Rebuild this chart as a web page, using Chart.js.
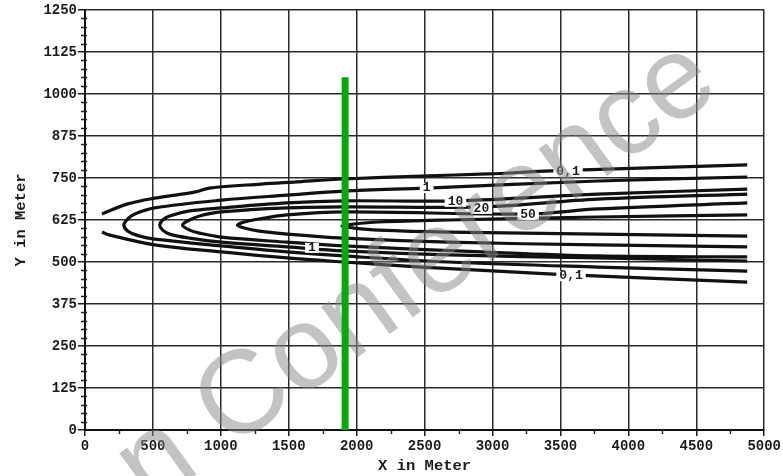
<!DOCTYPE html>
<html>
<head>
<meta charset="utf-8">
<script src="https://cdn.jsdelivr.net/npm/chart.js@4.4.1/dist/chart.umd.min.js"></script>
<style>
  html, body { margin: 0; padding: 0; background: #fff; }
  canvas { display: block; }
</style>
</head>
<body>
<canvas id="plume" width="783" height="476"></canvas>
<script>
// ---- Axis ticks ----
const xTicks = [0, 500, 1000, 1500, 2000, 2500, 3000, 3500, 4000, 4500, 5000];
const yTicks = [0, 125, 250, 375, 500, 625, 750, 875, 1000, 1125, 1250];

// ---- Concentration contours, [x, y] in metres ----
// 0,1 contour: open towards the source, two separate branches
const contour01Upper = [[125,643],[315,673],[513,690],[806,708],[916,720],[1298,732],[1540,738],[1906,747],[2478,756],[2969,762],[3431,771],[4142,780],[4875,789]];
const contour01Lower = [[125,589],[183,580],[513,551],[1004,530],[1488,512],[1906,500],[2478,485],[3446,464],[4142,452],[4875,440]];
// closed contours, traced upper branch (right to left), nose, lower branch (left to right)
const contour1 = [[4875,753],[3776,741],[2515,720],[1906,711],[1488,699],[1004,684],[513,661],[367,643],[315,628],[286,610],[315,592],[403,577],[513,568],[1004,548],[1488,530],[1906,518],[2676,500],[3776,485],[4875,473]];
const contour10 = [[4875,717],[3776,702],[2727,682],[1906,682],[1488,676],[1004,661],[770,652],[623,637],[572,625],[550,610],[572,595],[623,583],[770,571],[1004,559],[1488,545],[1906,533],[2676,521],[3776,512],[4875,503]];
const contour20 = [[4875,702],[3776,687],[2918,664],[1906,664],[1488,661],[1004,649],[843,637],[770,625],[718,610],[770,595],[843,586],[1004,574],[1488,559],[1906,548],[2918,530],[3776,518],[4875,515]];
const contour50 = [[4875,676],[3776,658],[3262,643],[1906,649],[1488,640],[1283,628],[1173,619],[1122,610],[1173,601],[1283,592],[1488,583],[1906,571],[2676,559],[3776,551],[4875,545]];
const contourCore = [[4875,640],[3776,634],[2676,625],[2162,619],[1980,613],[1890,607],[1980,601],[2162,595],[2676,589],[3776,583],[4875,577]];

// ---- Contour level labels ----
const labelTexts = ['0,1', '0,1', '1', '10', '20', '50', '1'];
const labelX     = [3556, 3578, 2515, 2727, 2918, 3262, 1671];
const labelY     = [768, 458, 720, 679, 658, 640, 542];

// ---- Cross-section line ----
const sectionX = [1915, 1915];
const sectionY = [0, 1050];

const monoBold = (size) => ({ family: "'Liberation Mono', 'DejaVu Sans Mono', monospace", weight: 'bold', size });
const ink = '#1c1c1c';

function toPoints(list) { return list.map(([x, y]) => ({ x, y })); }

const contourStyle = {
  showLine: true, pointRadius: 0, pointHoverRadius: 0,
  borderColor: '#111', borderWidth: 3.2, tension: 0.35, fill: false
};

const contours = [contour01Upper, contour01Lower, contour1, contour10, contour20, contour50, contourCore];

const datasets = [
  // drawn last (index 0 sits on top)
  {
    data: sectionX.map((x, i) => ({ x, y: sectionY[i] })),
    showLine: true, pointRadius: 0, borderColor: '#0aa60a', borderWidth: 7,
    tension: 0, borderCapStyle: 'butt'
  },
  ...contours.map(c => Object.assign({}, contourStyle, { data: toPoints(c) }))
];

// White page behind the plot
const paper = {
  id: 'paper',
  beforeDraw(chart) {
    const c = chart.ctx;
    c.save();
    c.fillStyle = '#fff';
    c.fillRect(0, 0, chart.width, chart.height);
    c.restore();
  }
};

// Minor tick marks along both axes
const minorTicks = {
  id: 'minorTicks',
  afterDraw(chart) {
    const { x, y } = chart.scales;
    const c = chart.ctx;
    c.save();
    c.strokeStyle = ink;
    c.lineWidth = 1.4;
    c.beginPath();
    for (let v = 25; v < 1250; v += 25) {
      if (v % 125 === 0) continue;
      const py = Math.round(y.getPixelForValue(v)) + 0.5;
      c.moveTo(x.left - 4, py); c.lineTo(x.left + 2, py);
    }
    for (let v = 250; v < 5000; v += 500) {
      const px = Math.round(x.getPixelForValue(v)) + 0.5;
      c.moveTo(px, y.bottom); c.lineTo(px, y.bottom + 4);
    }
    c.stroke();
    c.restore();
  }
};

// Level labels on the contours, then the faint diagonal lettering,
// both placed just before the cross-section line is drawn.
const overlays = {
  id: 'overlays',
  beforeDatasetDraw(chart, args) {
    if (args.index !== 0) return;
    const { x, y } = chart.scales;
    const c = chart.ctx;
    c.save();
    c.font = "bold 13px 'Liberation Mono', monospace";
    c.textAlign = 'center';
    c.textBaseline = 'middle';
    labelTexts.forEach((t, i) => {
      const px = x.getPixelForValue(labelX[i]);
      const py = y.getPixelForValue(labelY[i]);
      const w = c.measureText(t).width + 6;
      c.fillStyle = '#fff';
      c.fillRect(px - w / 2, py - 5, w, 10);
      c.fillStyle = ink;
      c.fillText(t, px, py);
    });
    c.restore();

    c.save();
    c.translate(417, 274);
    c.rotate(-36 * Math.PI / 180);
    c.font = "118px 'Liberation Sans', Arial, sans-serif";
    c.textAlign = 'center';
    c.textBaseline = 'middle';
    c.fillStyle = 'rgba(135,135,135,0.5)';
    c.fillText('n Conference', 0, 0);
    c.restore();
  }
};

new Chart(document.getElementById('plume'), {
  type: 'scatter',
  data: { datasets },
  plugins: [paper, minorTicks, overlays],
  options: {
    responsive: false,
    animation: false,
    devicePixelRatio: 1,
    layout: { padding: { top: 10, right: 16, left: 0, bottom: 0 } },
    plugins: { legend: { display: false }, tooltip: { enabled: false } },
    scales: {
      x: {
        type: 'linear', min: 0, max: 5000,
        afterBuildTicks: s => { s.ticks = xTicks.map(v => ({ value: v })); },
        afterFit: s => { s.height = 46; },
        ticks: { font: monoBold(14), color: ink, padding: 2, maxRotation: 0, autoSkip: false, callback: v => String(v) },
        grid: { color: '#2a2a2a', lineWidth: 1.5, tickLength: 6, tickColor: ink, tickWidth: 1.5 },
        border: { display: true, color: '#111', width: 2 },
        title: { display: true, text: 'X in Meter', font: monoBold(15.5), color: ink, padding: { top: 0, bottom: 1 } }
      },
      y: {
        type: 'linear', min: 0, max: 1250,
        afterBuildTicks: s => { s.ticks = yTicks.map(v => ({ value: v })); },
        afterFit: s => { s.width = 85; },
        ticks: { font: monoBold(14), color: ink, padding: 1, autoSkip: false, callback: v => String(v) },
        grid: { color: '#2a2a2a', lineWidth: 1.5, tickLength: 7, tickColor: ink, tickWidth: 1.5 },
        border: { display: true, color: '#111', width: 2 },
        title: { display: true, text: 'Y in Meter', font: monoBold(15.5), color: ink, padding: { top: 12, bottom: 0 } }
      }
    }
  }
});
</script>
</body>
</html>
